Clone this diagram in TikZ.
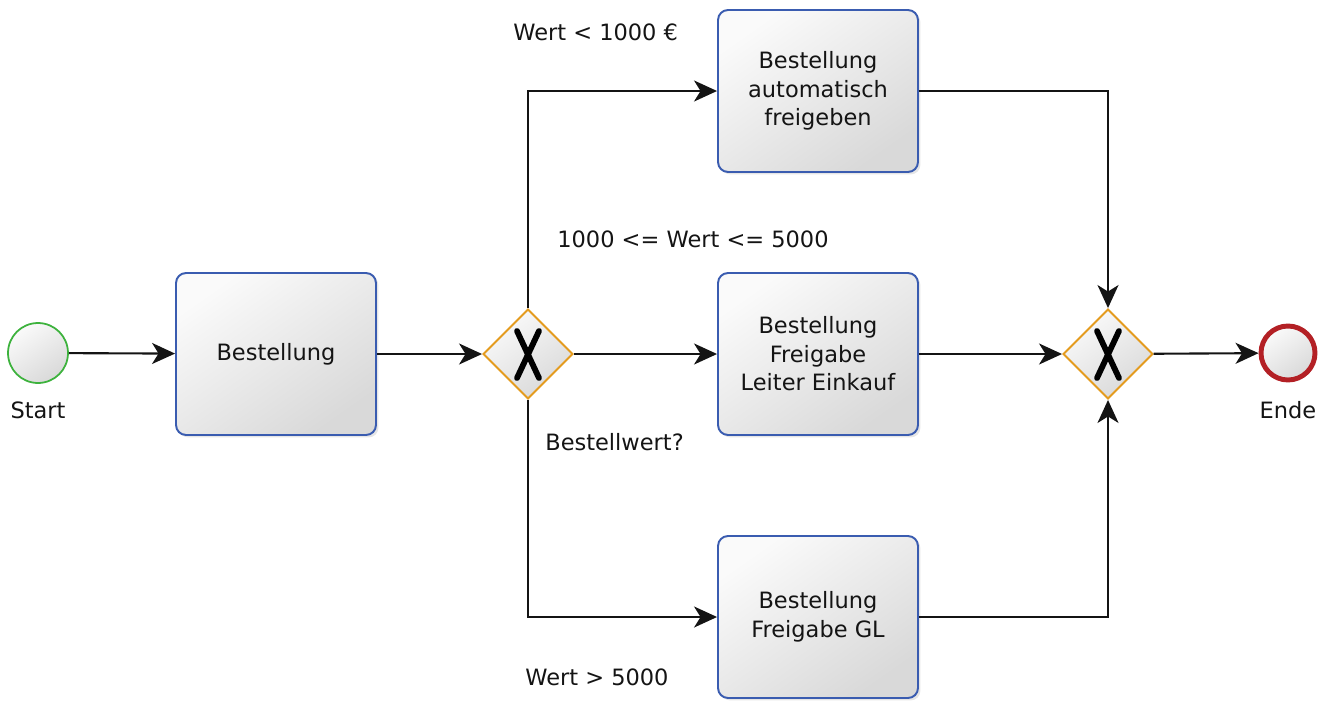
\documentclass[tikz,border=0pt]{standalone}
\usepackage{fontspec}
\setmainfont{DejaVu Sans}
\usepackage{tikz}
\usetikzlibrary{arrows.meta,shapes.geometric,shadows,calc}
\definecolor{taskblue}{HTML}{3A5CB0}
\definecolor{gwgold}{HTML}{E49B1E}
\definecolor{startgreen}{HTML}{3DB23D}
\definecolor{endred}{HTML}{B32025}
\definecolor{txt}{HTML}{141414}
\newcommand{\gwmark}[1]{%
\draw[line width=3.3pt,line cap=round,black] ([shift={(-11,-23)}]#1.center) -- ([shift={(11,24)}]#1.center);
\draw[line width=3.3pt,line cap=round,black] ([shift={(11,-23)}]#1.center) -- ([shift={(-11,24)}]#1.center);}

\begin{document}
\begin{tikzpicture}[x=0.02cm,y=-0.02cm,
  font=\fontsize{12.8}{16.2}\selectfont, text=txt,
  shade/.style={top color=gray!4, bottom color=gray!30, shading angle=35},
  task/.style={draw=taskblue, line width=1.1pt, rounded corners=0.2cm, shade,
    minimum width=4cm, minimum height=3.24cm, align=center,
    drop shadow={opacity=0.2, shadow xshift=0.05cm, shadow yshift=-0.05cm}},
  gateway/.style={diamond, draw=gwgold, line width=1.1pt, shade, inner sep=0pt,
    minimum width=1.8cm, minimum height=1.8cm},
  event/.style={circle, shade, inner sep=0pt, minimum size=1.2cm},
  flow/.style={-{Stealth[length=0.46cm,width=0.42cm,inset=0.13cm]}, line width=1.2pt, txt},
  lbl/.style={anchor=west, inner sep=0pt}]
\useasboundingbox (0,0) rectangle (1325,700);

% events
\node[event, draw=startgreen, line width=1pt] (start) at (38,353) {};
\node (startlbl) at (38,410) {Start};
\node[event, draw=endred, line width=2.8pt, minimum size=1.08cm] (ende) at (1288,353) {};
\node (endelbl) at (1288,410) {Ende};

% tasks
\node[task] (best) at (276,354) {Bestellung};
\node[task] (auto) at (818,91) {Bestellung\\automatisch\\freigeben};
\node[task] (leiter) at (818,354) {Bestellung\\Freigabe\\Leiter Einkauf};
\node[task] (gl) at (818,617) {Bestellung\\Freigabe GL};

% gateways
\node[gateway] (gw1) at (528,354) {};
\node[gateway] (gw2) at (1108,354) {};
\gwmark{gw1}
\gwmark{gw2}

% conditions
\node[lbl] (c1) at (513,32) {Wert < 1000 €};
\node[lbl] (c2) at (557,239) {1000 <= Wert <= 5000};
\node[lbl] (c3) at (545,442) {Bestellwert?};
\node[lbl] (c4) at (525,677) {Wert > 5000};

% sequence flows
\draw[flow] (start) -- (best);
\draw[flow] (best) -- (gw1);
\draw[flow] (gw1.north) |- (auto.west);
\draw[flow] (gw1) -- (leiter);
\draw[flow] (gw1.south) |- (gl.west);
\draw[flow] (auto.east) -| (gw2.north);
\draw[flow] (leiter) -- (gw2);
\draw[flow] (gl.east) -| (gw2.south);
\draw[flow] (gw2) -- (ende);
\end{tikzpicture}
\end{document}
